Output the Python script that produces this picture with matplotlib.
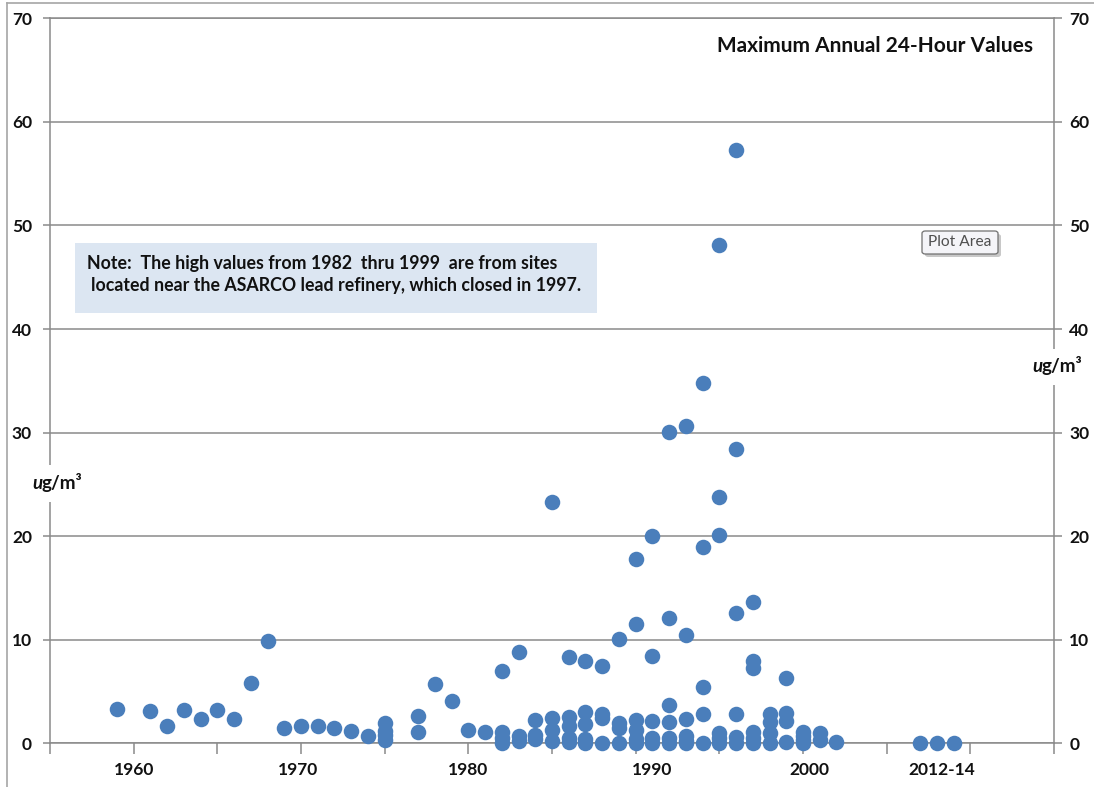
import numpy as np
import matplotlib
matplotlib.use('Agg')
from matplotlib import pyplot as plt
from matplotlib.patches import Rectangle, FancyBboxPatch
from matplotlib.lines import Line2D

# maximum annual 24-hour lead values (ug/m3) per year; the 2012-14 values
# sit in the 2007-09 slots of the shortened axis
years = [1959, 1961, 1962, 1963, 1964, 1965, 1966, 1967, 1968, 1969,
         1970, 1971, 1972, 1973, 1974, 1975, 1977, 1978, 1979, 1980,
         1981, 1982, 1983, 1984, 1985, 1986, 1987, 1988, 1989, 1990,
         1991, 1992, 1993, 1994, 1995, 1996, 1997, 1998, 1999, 2000,
         2001, 2002, 2007, 2008, 2009]
values = [[3.3], [3.1], [1.7], [3.2], [2.3], [3.2], [2.3], [5.8], [9.9], [1.45],
          [1.7], [1.7], [1.45], [1.2], [0.7], [2.0, 1.2, 0.8, 0.3], [2.6, 1.1], [5.7], [4.05], [1.3],
          [1.05], [7.0, 1.1, 0.5, 0.05], [8.8, 0.7, 0.2], [2.25, 0.8, 0.45],
          [23.3, 2.4, 1.3, 0.2],
          [8.3, 2.5, 1.7, 0.5, 0.1],
          [7.9, 3.0, 1.9, 0.4, 0.05],
          [7.5, 2.8, 2.4, 0.05],
          [10.1, 1.95, 1.5, 0.05],
          [17.8, 11.5, 2.25, 1.25, 0.45, 0.05],
          [20.0, 8.4, 2.2, 0.55, 0.05],
          [30.1, 12.1, 3.65, 2.1, 0.5, 0.05],
          [30.6, 10.5, 2.35, 0.7, 0.25, 0.0],
          [34.8, 19.0, 5.4, 2.85, 0.05],
          [48.1, 23.8, 20.1, 1.0, 0.5, 0.05],
          [57.3, 28.4, 12.6, 2.85, 0.6, 0.05],
          [13.6, 7.9, 7.3, 1.1, 0.55, 0.05],
          [2.8, 2.1, 1.0, 0.05],
          [6.35, 2.9, 2.2, 0.1],
          [1.1, 0.7, 0.3, 0.0],
          [1.0, 0.3], [0.1], [0.0], [0.0], [0.0]]

x_label_pos = [1960, 1969.8, 1980, 1991, 2000.4, 2008.3]
x_labels = ['1960', '1970', '1980', '1990', '2000', '2012-14']
y_ticks = list(range(0, 80, 10))

W, H = 1094, 787
GRAY = '#8a8a8a'
BLUE = '#4a7ebb'
TXT = '#111111'
TICK_FS = 12.5

plt.rcParams['font.family'] = ['Lato', 'DejaVu Sans']


def fx(x):
    return x / W


def fy(y):
    return 1 - y / H


fig = plt.figure(figsize=(W / 100, H / 100), dpi=100)
fig.patch.set_facecolor('white')

# chart-area border along the left and top edges
fig.add_artist(Line2D([fx(7), fx(7)], [fy(3), 0], color='#a6a6a6', lw=1.2))
fig.add_artist(Line2D([fx(7), 1], [fy(3), fy(3)], color='#a6a6a6', lw=1.2))

left, right, top, bottom = 50, 1054, 18.3, 743.3
ax = fig.add_axes([fx(left), fy(bottom), fx(right) - fx(left), fy(top) - fy(bottom)])

xs = np.concatenate([[yr] * len(v) for yr, v in zip(years, values)])
ys = np.concatenate(values)
ax.scatter(xs, ys, s=125, color=BLUE, linewidths=0, zorder=4, clip_on=False)

ax.set_xlim(1955, 2015)
ax.set_ylim(0, 70)
ax.set_axisbelow(True)
ax.grid(axis='y', color=GRAY, lw=1.1)
ax.grid(axis='x', visible=False)

for side in ['left', 'bottom', 'top']:
    ax.spines[side].set_color(GRAY)
    ax.spines[side].set_linewidth(1.1)
ax.spines['right'].set_visible(False)

ax.set_xticks(range(1955, 2016, 5))
ax.set_xticklabels([])
ax.tick_params(axis='x', direction='out', length=8, width=1.1, color=GRAY)
for xp, lab in zip(x_label_pos, x_labels):
    ax.text(xp, -0.037, lab, transform=ax.get_xaxis_transform(), ha='center', va='center',
            fontsize=TICK_FS, fontweight='bold', color=TXT)

ax.set_yticks(y_ticks)
ax.set_yticklabels([str(v) for v in y_ticks], fontweight='bold', fontsize=TICK_FS, color=TXT)
ax.tick_params(axis='y', direction='out', length=5, width=1.1, color=GRAY, pad=8)

ax2 = ax.twinx()
ax2.set_ylim(0, 70)
for side in ['left', 'bottom', 'top']:
    ax2.spines[side].set_visible(False)
ax2.spines['right'].set_color(GRAY)
ax2.spines['right'].set_linewidth(1.1)
ax2.set_yticks(y_ticks)
ax2.set_yticklabels([str(v) for v in y_ticks], fontweight='bold', fontsize=TICK_FS, color=TXT)
ax2.tick_params(axis='y', direction='out', length=6, width=1.1, color=GRAY, pad=5)

# title
fig.text(fx(1033), fy(46.5), 'Maximum Annual 24-Hour Values', ha='right', va='center',
         fontsize=15, fontweight='bold', color=TXT)

# note box
fig.add_artist(Rectangle((fx(75), fy(313)), fx(597) - fx(75), fy(243) - fy(313),
                         transform=fig.transFigure, facecolor='#dce6f2', edgecolor='none'))
fig.text(fx(87), fy(263), 'Note:  The high values from 1982  thru 1999  are from sites',
         ha='left', va='center', fontsize=12.8, fontweight='bold', color=TXT)
fig.text(fx(91), fy(286), 'located near the ASARCO lead refinery, which closed in 1997.',
         ha='left', va='center', fontsize=12.8, fontweight='bold', color=TXT)


# unit labels, each on a white patch that breaks the axis line
def unit_label(x0, x1, yc, y0, y1):
    fig.add_artist(Rectangle((fx(x0), fy(y1)), fx(x1) - fx(x0), fy(y0) - fy(y1),
                             transform=fig.transFigure, facecolor='white', edgecolor='none',
                             zorder=5))
    xs_ = x0 + 3
    fig.text(fx(xs_), fy(yc), 'u', ha='left', va='baseline', fontsize=13.5,
             fontweight='bold', fontstyle='italic', color=TXT, zorder=6)
    fig.text(fx(xs_ + 9.5), fy(yc), 'g/m³', ha='left', va='baseline', fontsize=13.5,
             fontweight='bold', color=TXT, zorder=6)


unit_label(29, 87, 489, 465, 502)
unit_label(1029, 1090, 372, 349, 385)

# "Plot Area" tooltip
fig.add_artist(FancyBboxPatch((fx(925), fy(257)), fx(1001) - fx(925), fy(234) - fy(257),
                              boxstyle='round,pad=0.0,rounding_size=0.003',
                              transform=fig.transFigure, facecolor='#c8c8c8',
                              edgecolor='none', zorder=5))
fig.add_artist(FancyBboxPatch((fx(922), fy(254)), fx(998) - fx(922), fy(231) - fy(254),
                              boxstyle='round,pad=0.0,rounding_size=0.003',
                              transform=fig.transFigure, facecolor='#f4f4f8',
                              edgecolor='#707070', lw=0.9, zorder=6))
fig.text(fx(960), fy(242.5), 'Plot Area', ha='center', va='center', fontsize=11.2,
         color='#4f4f4f', zorder=7)

fig.savefig('out.png', dpi=100)
